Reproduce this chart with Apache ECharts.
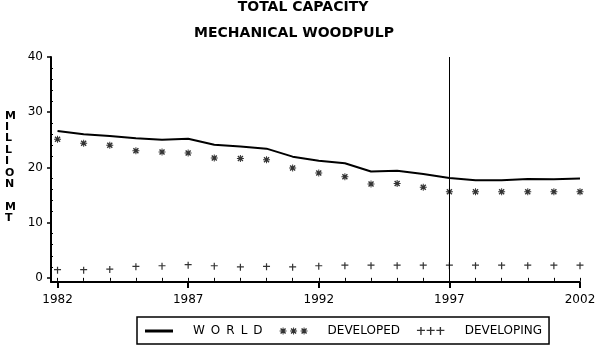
<!DOCTYPE html>
<html>
<head>
<meta charset="utf-8">
<script src="https://cdn.jsdelivr.net/npm/echarts@6/dist/echarts.min.js"></script>
<style>
html, body { margin: 0; padding: 0; background: #fff; }
#main { width: 599px; height: 352px; }
</style>
</head>
<body>
<div id="main"></div>
<script>
// chart data
const years = [1982, 1983, 1984, 1985, 1986, 1987, 1988, 1989, 1990, 1991, 1992,
               1993, 1994, 1995, 1996, 1997, 1998, 1999, 2000, 2001, 2002];
const world = [26.6, 26.0, 25.7, 25.3, 25.0, 25.2, 24.1, 23.8, 23.4, 21.95, 21.2,
               20.75, 19.25, 19.4, 18.8, 18.1, 17.7, 17.7, 17.9, 17.85, 18.0];
const developed = [25.1, 24.4, 24.0, 23.0, 22.8, 22.6, 21.7, 21.6, 21.4, 19.9, 19.0,
                   18.3, 17.0, 17.1, 16.4, 15.6, 15.6, 15.6, 15.6, 15.6, 15.6];
const developing = [1.4, 1.4, 1.5, 2.0, 2.1, 2.3, 2.1, 1.9, 2.0, 1.9, 2.1,
                    2.2, 2.2, 2.2, 2.2, 2.2, 2.2, 2.2, 2.2, 2.2, 2.2];
const xLabels = [1982, 1987, 1992, 1997, 2002];
const yLabels = [0, 10, 20, 30, 40];
const yMinor = [2, 4, 6, 8, 12, 14, 16, 18, 22, 24, 26, 28, 32, 34, 36, 38];
const markYear = 1997;

const FONT = 'DejaVu Sans';
const WORLD = 'W\u2002O\u2002R\u2002L\u2002D';

/** symbol shapes, dx = horizontal offset */
function starPath(dx) {
    let a = (x) => (x + dx);
    return 'M' + a(3) + ',0h1v7h-1z ' +
        'M' + a(0) + ',3h7v1h-7z ' +
        'M' + a(0.5) + ',1.5L' + a(1.5) + ',0.5L' + a(6.5) + ',5.5L' + a(5.5) + ',6.5z ' +
        'M' + a(5.5) + ',0.5L' + a(6.5) + ',1.5L' + a(1.5) + ',6.5L' + a(0.5) + ',5.5z';
}
function plusPath(dx) {
    return 'M' + (2.9 + dx) + ',0h1.2v7h-1.2z M' + dx + ',2.4h7v1.2h-7z';
}
const starIcon = 'path://' + starPath(0) + ' ' + starPath(10.5) + ' ' + starPath(21);
const plusIcon = 'path://' + plusPath(0) + ' ' + plusPath(8.5) + ' ' + plusPath(17);

function pairs(vals) {
    return years.map((y, i) => [y, vals[i]]);
}

let chart = echarts.init(document.getElementById('main'), null, { renderer: 'canvas' });

let option = {
    backgroundColor: '#fff',
    animation: false,
    textStyle: { fontFamily: FONT, color: '#000' },
    title: [
        {
            text: 'TOTAL CAPACITY', left: 303, top: 0, padding: 0, textAlign: 'center',
            textStyle: { fontFamily: FONT, fontSize: 14, fontWeight: 'bold', color: '#000' }
        },
        {
            text: 'MECHANICAL WOODPULP', left: 294, top: 26, padding: 0, textAlign: 'center',
            textStyle: { fontFamily: FONT, fontSize: 14, fontWeight: 'bold', color: '#000' }
        }
    ],
    legend: {
        left: 137, top: 317,
        padding: [8, 7, 7, 8],
        borderColor: '#000', borderWidth: 1.5,
        itemWidth: 28, itemHeight: 8, itemGap: 17,
        selectedMode: false,
        textStyle: { fontFamily: FONT, fontSize: 12, color: '#000', padding: [0, 0, 0, 15] },
        data: [
            { name: WORLD, icon: 'path://M0,0h28v3h-28z' },
            { name: 'DEVELOPED', icon: starIcon },
            { name: 'DEVELOPING', icon: plusIcon }
        ]
    },
    grid: { left: 51, right: 19, top: 57, bottom: 70, containLabel: false },
    xAxis: [
        {
            type: 'value', min: 1981.75, max: 2002,
            axisLine: { show: true, onZero: false, lineStyle: { color: '#000', width: 2 } },
            axisTick: { show: true, length: 6, customValues: xLabels, lineStyle: { color: '#000', width: 2 } },
            axisLabel: {
                customValues: xLabels, margin: 12, fontFamily: FONT, fontSize: 12, color: '#000',
                formatter: (v) => String(v)
            },
            splitLine: { show: false }
        },
        {
            type: 'value', min: 1981.75, max: 2002, position: 'bottom',
            axisLine: { show: false },
            axisTick: { show: true, length: 3, customValues: years, lineStyle: { color: '#000', width: 1 } },
            axisLabel: { show: false },
            splitLine: { show: false }
        }
    ],
    yAxis: [
        {
            type: 'value', min: -0.75, max: 40,
            axisLine: { show: true, onZero: false, lineStyle: { color: '#000', width: 2 } },
            axisTick: { show: true, length: 4, customValues: yLabels, lineStyle: { color: '#000', width: 1.5 } },
            axisLabel: { customValues: yLabels, margin: 8, fontFamily: FONT, fontSize: 12, color: '#000' },
            splitLine: { show: false }
        },
        {
            type: 'value', min: -0.75, max: 40, position: 'left',
            axisLine: { show: false },
            axisTick: { show: true, inside: true, length: 2, customValues: yMinor, lineStyle: { color: '#000', width: 1 } },
            axisLabel: { show: false },
            splitLine: { show: false }
        }
    ],
    graphic: [
        {
            type: 'text', left: 5, top: 110,
            style: {
                text: 'M\nI\nL\nL\nI\nO\nN\n\nM\nT',
                fontFamily: FONT, fontSize: 11, fontWeight: 'bold', lineHeight: 11.4,
                align: 'center', fill: '#000'
            }
        }
    ],
    series: [
        {
            name: WORLD, type: 'line', data: pairs(world),
            showSymbol: false, symbol: 'none',
            lineStyle: { color: '#000', width: 2 },
            itemStyle: { color: '#000' },
            markLine: {
                silent: true, symbol: 'none',
                label: { show: false },
                lineStyle: { color: '#000', width: 1, type: 'solid' },
                data: [{ xAxis: markYear }]
            }
        },
        {
            name: 'DEVELOPED', type: 'scatter', data: pairs(developed),
            symbol: 'path://' + starPath(0), symbolSize: 7,
            itemStyle: { color: '#000' }
        },
        {
            name: 'DEVELOPING', type: 'scatter', data: pairs(developing),
            symbol: 'path://' + plusPath(0), symbolSize: 7,
            itemStyle: { color: '#000' }
        }
    ]
};

chart.setOption(option);
</script>
</body>
</html>
